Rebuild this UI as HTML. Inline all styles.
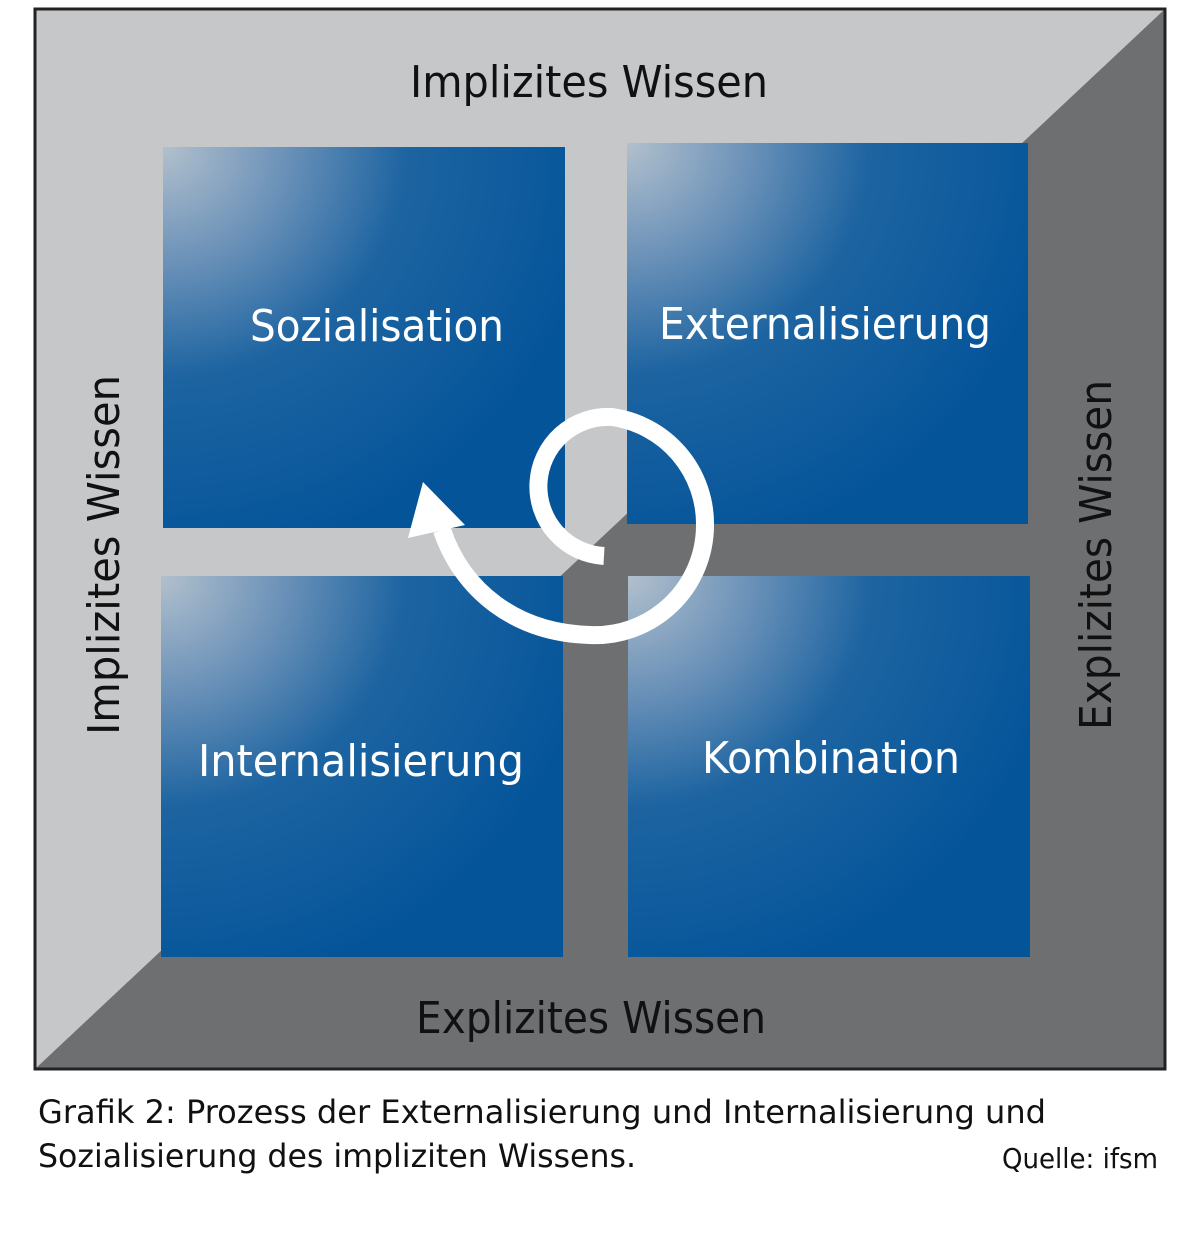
<!DOCTYPE html>
<html><head><meta charset="utf-8"><style>html,body{margin:0;padding:0;background:#fff}svg{display:block}</style></head>
<body>
<svg width="1200" height="1241" viewBox="0 0 1200 1241" xmlns="http://www.w3.org/2000/svg" font-family="'DejaVu Sans','Liberation Sans',sans-serif">
<defs>
<radialGradient id="g" cx="0" cy="0" r="1.1" gradientUnits="objectBoundingBox">
<stop offset="0" stop-color="#b2c0cd"/>
<stop offset="0.28" stop-color="#6a91b8"/>
<stop offset="0.55" stop-color="#1d64a1"/>
<stop offset="1" stop-color="#04549a"/>
</radialGradient>
</defs>
<rect x="35" y="9" width="1130" height="1060" fill="#c6c7c9"/>
<polygon points="1165,9 1165,1069 35,1069" fill="#6e6f71"/>
<rect x="35" y="9" width="1130" height="1060" fill="none" stroke="#222" stroke-width="3"/>
<rect x="163" y="147" width="402" height="381" fill="url(#g)"/>
<rect x="627" y="143" width="401" height="381" fill="url(#g)"/>
<rect x="161" y="576" width="402" height="381" fill="url(#g)"/>
<rect x="628" y="576" width="402" height="381" fill="url(#g)"/>
<path d="M604 556 A69 69 0 0 1 612 417 A108 108 0 0 1 705 526 A110 110 0 0 1 590 635 C515 633 462 590 442 530" fill="none" stroke="#fff" stroke-width="18"/>
<polygon points="423,482 408,538 465,525" fill="#fff"/>
<g font-size="44" fill="#111">
<text x="589" y="97" text-anchor="middle" textLength="358" lengthAdjust="spacingAndGlyphs">Implizites Wissen</text>
<text x="591" y="1033" text-anchor="middle" textLength="350" lengthAdjust="spacingAndGlyphs">Explizites Wissen</text>
<text transform="translate(119,555) rotate(-90)" text-anchor="middle" textLength="360" lengthAdjust="spacingAndGlyphs">Implizites Wissen</text>
<text transform="translate(1111,555) rotate(-90)" text-anchor="middle" textLength="350" lengthAdjust="spacingAndGlyphs">Explizites Wissen</text>
</g>
<g font-size="44" fill="#fff">
<text x="377" y="341" text-anchor="middle" textLength="254" lengthAdjust="spacingAndGlyphs">Sozialisation</text>
<text x="825" y="339" text-anchor="middle" textLength="332" lengthAdjust="spacingAndGlyphs">Externalisierung</text>
<text x="361" y="776" text-anchor="middle" textLength="326" lengthAdjust="spacingAndGlyphs">Internalisierung</text>
<text x="831" y="773" text-anchor="middle" textLength="258" lengthAdjust="spacingAndGlyphs">Kombination</text>
</g>
<g font-size="32" fill="#111">
<text x="38" y="1123" textLength="1008" lengthAdjust="spacingAndGlyphs">Grafik 2: Prozess der Externalisierung und Internalisierung und</text>
<text x="38" y="1167" textLength="598" lengthAdjust="spacingAndGlyphs">Sozialisierung des impliziten Wissens.</text>
<text x="1002" y="1168" font-size="28" textLength="156" lengthAdjust="spacingAndGlyphs">Quelle: ifsm</text>
</g>
</svg>
</body></html>
